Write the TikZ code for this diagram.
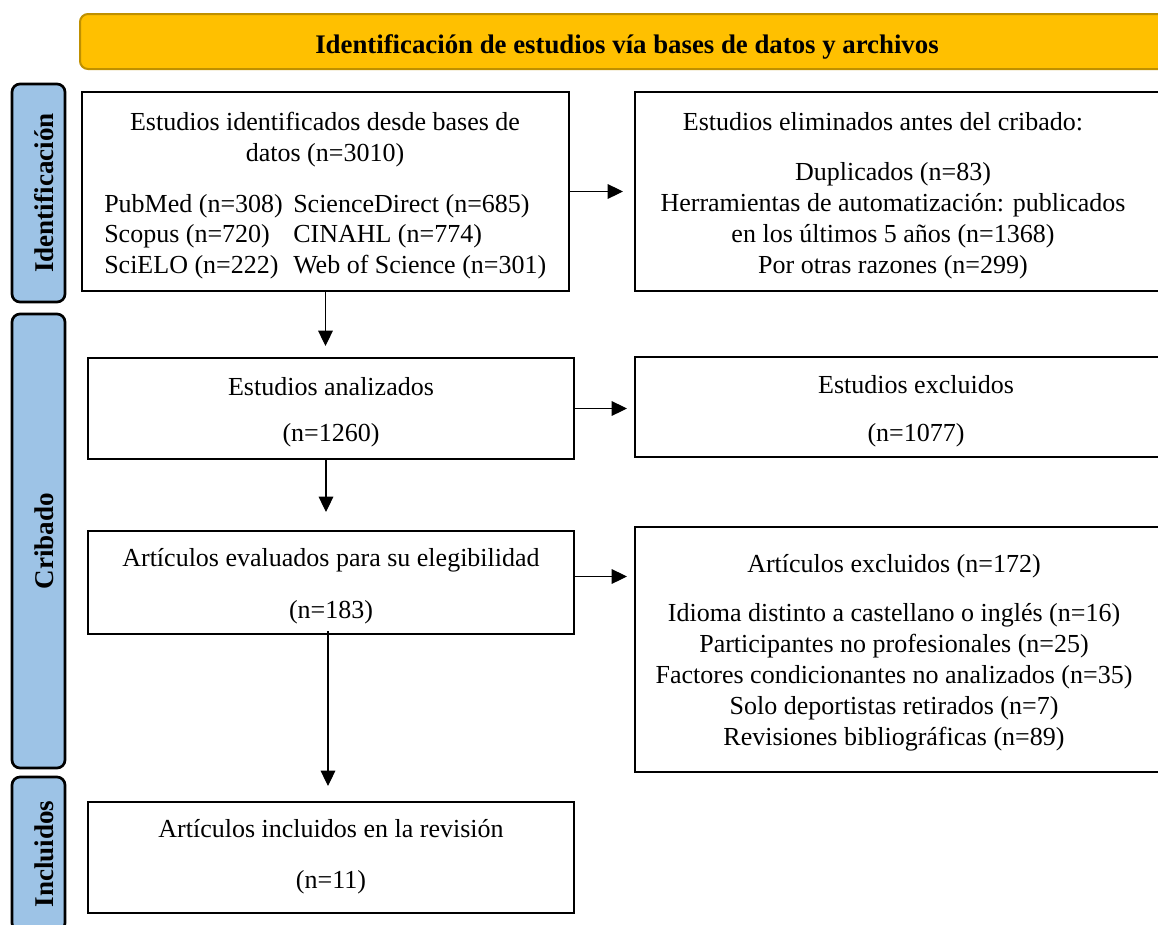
\documentclass[tikz,border=0pt]{standalone}
\usepackage{fontspec}
\setmainfont{Liberation Serif}
\usetikzlibrary{arrows.meta,fit}
\definecolor{bannerfill}{HTML}{FFC000}
\definecolor{bannerline}{HTML}{BF9000}
\definecolor{sidefill}{HTML}{9DC3E6}
\begin{document}
\begin{tikzpicture}[x=0.75pt,y=-0.75pt,
  box/.style={draw=black,line width=1.5pt,inner sep=0pt},
  banner/.style={draw=bannerline,line width=1.5pt,fill=bannerfill,rounded corners=6pt,inner sep=0pt},
  side/.style={draw=black,line width=2pt,fill=sidefill,rounded corners=6pt,inner sep=0pt},
  txt/.style={anchor=base,inner sep=0pt,font=\fontsize{19.5}{23}\selectfont},
  lft/.style={txt,anchor=base west},
  titletxt/.style={anchor=base,inner sep=0pt,font=\fontsize{20.1}{24}\selectfont\bfseries},
  sidetxt/.style={anchor=base,rotate=90,inner sep=0pt,font=\fontsize{20.3}{24}\selectfont\bfseries},
  arr/.style={line width=0.8pt,-{Triangle[length=11.5pt,width=11pt]}}]
\useasboundingbox (0,0) rectangle (1158,925);
\clip (0,0) rectangle (1158,925);

% banner
\node[banner, fit={(80,14)(1175,69)}] (banner) {};
\node[titletxt] (title) at (627,53) {Identificación de estudios vía bases de datos y archivos};

% side labels
\node[side, fit={(12,84)(65,302)}] (sideid) {};
\node[sidetxt] (sideidt) at (53,193) {Identificación};
\node[side, fit={(12,314)(65,768)}] (sidecr) {};
\node[sidetxt] (sidecrt) at (53,541) {Cribado};
\node[side, fit={(12,777)(65,931)}] (sidein) {};
\node[sidetxt] (sideint) at (53,854) {Incluidos};

% boxes
\node[box, fit={(82,92)(569,291)}] (b1) {};
\node[box, fit={(635,92)(1175,291)}] (r1) {};
\node[box, fit={(88,358)(574,459)}] (b2) {};
\node[box, fit={(635,357)(1175,457)}] (r2) {};
\node[box, fit={(88,531)(574,634)}] (b3) {};
\node[box, fit={(635,527)(1175,772)}] (r3) {};
\node[box, fit={(88,802)(574,913)}] (b4) {};

% b1 text
\node[txt] (b1l1) at (325,130) {Estudios identificados desde bases de};
\node[txt] (b1l2) at (325,161) {datos (n=3010)};
\node[lft] (b1a) at (104,212) {PubMed (n=308)};
\node[lft] (b1b) at (293,212) {ScienceDirect (n=685)};
\node[lft] (b1c) at (104,242) {Scopus (n=720)};
\node[lft] (b1d) at (293,242) {CINAHL (n=774)};
\node[lft] (b1e) at (104,273) {SciELO (n=222)};
\node[lft] (b1f) at (293,273) {Web of Science (n=301)};

% r1 text
\node[txt] (r1l1) at (883,130) {Estudios eliminados antes del cribado:};
\node[txt] (r1l2) at (893,180) {Duplicados (n=83)};
\node[txt] (r1l3) at (893,211) {Herramientas de automatización: publicados};
\node[txt] (r1l4) at (893,242) {en los últimos 5 años (n=1368)};
\node[txt] (r1l5) at (893,273) {Por otras razones (n=299)};

% b2 / r2 text
\node[txt] (b2l1) at (331,395) {Estudios analizados};
\node[txt] (b2l2) at (331,441) {(n=1260)};
\node[txt] (r2l1) at (916,393) {Estudios excluidos};
\node[txt] (r2l2) at (916,441) {(n=1077)};

% b3 / r3 text
\node[txt] (b3l1) at (331,566) {Artículos evaluados para su elegibilidad};
\node[txt] (b3l2) at (331,618) {(n=183)};
\node[txt] (r3l1) at (894,572) {Artículos excluidos (n=172)};
\node[txt] (r3l2) at (894,621) {Idioma distinto a castellano o inglés (n=16)};
\node[txt] (r3l3) at (894,652) {Participantes no profesionales (n=25)};
\node[txt] (r3l4) at (894,683) {Factores condicionantes no analizados (n=35)};
\node[txt] (r3l5) at (894,714) {Solo deportistas retirados (n=7)};
\node[txt] (r3l6) at (894,745) {Revisiones bibliográficas (n=89)};

% b4 text
\node[txt] (b4l1) at (331,837) {Artículos incluidos en la revisión};
\node[txt] (b4l2) at (331,888) {(n=11)};

% arrows
\draw[arr, shorten >=8.25pt] (b1.south) -- (b1.south |- b2.north);
\draw[arr, shorten >=13.5pt] ([xshift=-3.75pt]b2.south) -- ([xshift=-3.75pt]b2.south |- b3.north);
\draw[arr, shorten <=-3pt, shorten >=11.25pt] ([xshift=-2.25pt]b3.south) -- ([xshift=-2.25pt]b3.south |- b4.north);
\draw[arr, shorten >=8.25pt] (b1.east) -- (b1.east -| r1.west);
\draw[arr, shorten >=5.25pt] (b2.east) -- (b2.east -| r2.west);
\draw[arr, shorten >=5.25pt] ([yshift=4.5pt]b3.east) -- ([yshift=4.5pt]b3.east -| r3.west);
\end{tikzpicture}
\end{document}
